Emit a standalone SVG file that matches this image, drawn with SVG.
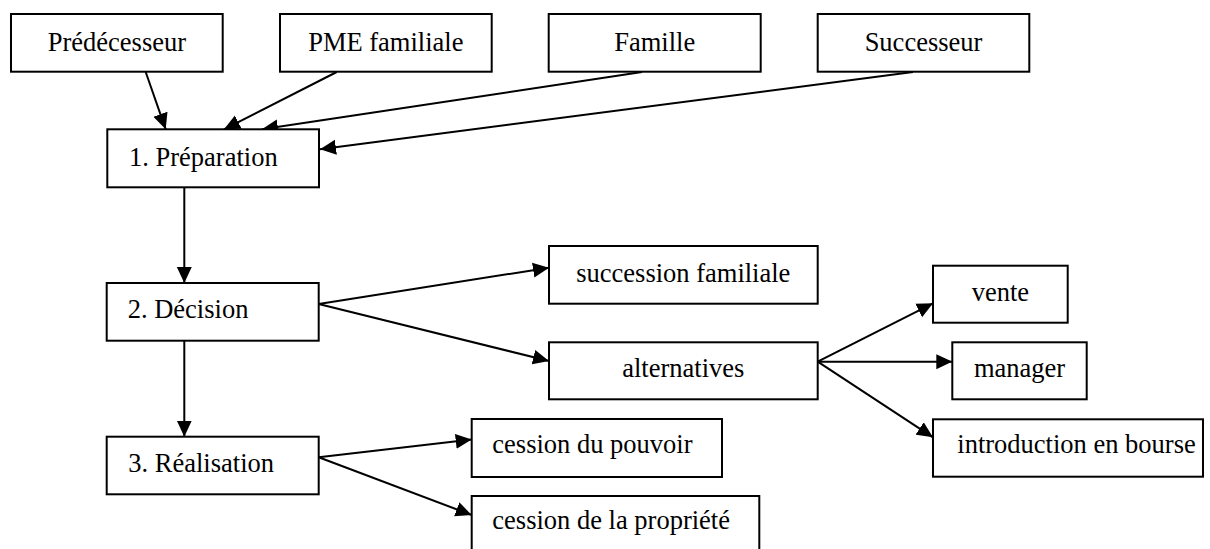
<svg xmlns="http://www.w3.org/2000/svg" width="1210" height="549" viewBox="0 0 1210 549">
<style>
.box{fill:#fff;stroke:#000;stroke-width:2}
.t{font-family:"Liberation Serif","Times New Roman",serif;font-size:26.5px;fill:#000}
.c{text-anchor:middle}
.edge{stroke:#000;stroke-width:2;fill:none;marker-end:url(#arr)}
</style>
<defs>
<marker id="arr" markerUnits="userSpaceOnUse" markerWidth="16" markerHeight="16" viewBox="0 0 15 14" refX="15" refY="7" orient="auto">
<path d="M0,0 L15,7 L0,14 z" fill="#000"/>
</marker>
</defs>
<rect width="1210" height="549" fill="#fff"/>
<g id="connectors">
<line class="edge" x1="145.7" y1="72" x2="165.7" y2="129.3"/>
<line class="edge" x1="336.7" y1="72" x2="224" y2="129.3"/>
<line class="edge" x1="642" y1="72" x2="262" y2="129.3"/>
<line class="edge" x1="913" y1="72" x2="320" y2="149.3"/>
<line class="edge" x1="184.3" y1="187.3" x2="184.3" y2="283"/>
<line class="edge" x1="184.3" y1="340.7" x2="184.3" y2="436.7"/>
<line class="edge" x1="318.7" y1="304" x2="549" y2="267.7"/>
<line class="edge" x1="318.7" y1="304" x2="549" y2="361"/>
<line class="edge" x1="817.7" y1="361.7" x2="933" y2="303.3"/>
<line class="edge" x1="817.7" y1="361.7" x2="952.3" y2="361.7"/>
<line class="edge" x1="817.7" y1="361.7" x2="933" y2="437.3"/>
<line class="edge" x1="318.7" y1="457.3" x2="471.7" y2="439.5"/>
<line class="edge" x1="318.7" y1="457.3" x2="471.7" y2="515"/>
</g>
<g id="predecesseur"><rect class="box" x="11" y="14" width="211.7" height="57.7"/><text class="t c" x="116.9" y="50.7">Prédécesseur</text></g>
<g id="pme"><rect class="box" x="280" y="14" width="211.7" height="57.7"/><text class="t c" x="385.8" y="50.7">PME familiale</text></g>
<g id="famille"><rect class="box" x="548.7" y="14" width="212" height="57.7"/><text class="t c" x="654.7" y="50.7">Famille</text></g>
<g id="successeur"><rect class="box" x="817.7" y="14" width="211.6" height="57.7"/><text class="t c" x="923.5" y="50.7">Successeur</text></g>
<g id="preparation"><rect class="box" x="107.3" y="129.3" width="211.7" height="58"/><text class="t" x="129" y="165.7">1. Préparation</text></g>
<g id="decision"><rect class="box" x="106.7" y="283" width="212" height="57.7"/><text class="t" x="127.7" y="318">2. Décision</text></g>
<g id="realisation"><rect class="box" x="106.7" y="436.7" width="212" height="57.6"/><text class="t" x="128.3" y="472">3. Réalisation</text></g>
<g id="succession"><rect class="box" x="549" y="246" width="268.7" height="57.7"/><text class="t c" x="683.3" y="281.7">succession familiale</text></g>
<g id="alternatives"><rect class="box" x="549" y="342.3" width="268.7" height="57"/><text class="t c" x="683.3" y="377">alternatives</text></g>
<g id="vente"><rect class="box" x="933" y="265.7" width="134.7" height="57"/><text class="t c" x="1000.4" y="300.7">vente</text></g>
<g id="manager"><rect class="box" x="952.3" y="342.3" width="134.4" height="57"/><text class="t c" x="1019.5" y="377.3">manager</text></g>
<g id="bourse"><rect class="box" x="933" y="419.3" width="270" height="57.4"/><text class="t" x="957.3" y="453.3">introduction en bourse</text></g>
<g id="pouvoir"><rect class="box" x="471.7" y="419" width="250.3" height="58"/><text class="t" x="492.3" y="452.7">cession du pouvoir</text></g>
<g id="propriete"><rect class="box" x="471.7" y="496" width="287.6" height="60"/><text class="t" x="492.3" y="529.3">cession de la propriété</text></g>
</svg>
